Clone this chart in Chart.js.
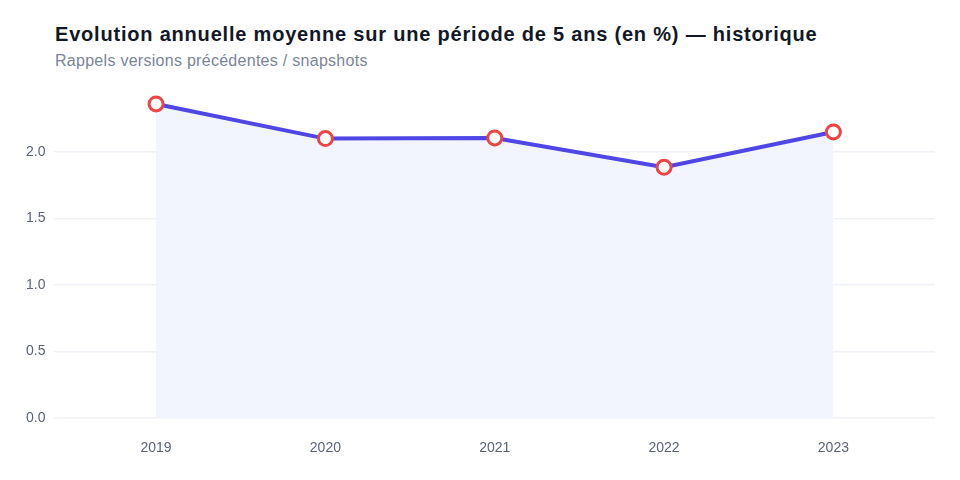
<!DOCTYPE html>
<html>
<head>
<meta charset="utf-8">
<script src="https://cdn.jsdelivr.net/npm/chart.js@4"></script>
<style>
  body { margin: 0; background: #fff; }
  .wrap { position: relative; width: 960px; height: 480px; font-family: "Liberation Sans", Arial, sans-serif; }
  .title { position: absolute; left: 55px; top: 23px; font-size: 20px; font-weight: bold; color: #111827; letter-spacing: 0.8px; }
  .subtitle { position: absolute; left: 55px; top: 52px; font-size: 16px; color: #7b8598; letter-spacing: 0.28px; }
  canvas { position: absolute; left: 0; top: 0; }
</style>
</head>
<body>
<div class="wrap">
  <div class="title">Evolution annuelle moyenne sur une période de 5 ans (en %) — historique</div>
  <div class="subtitle">Rappels versions précédentes / snapshots</div>
  <canvas id="chart" width="960" height="480"></canvas>
</div>
<script>
const years = [2019, 2020, 2021, 2022, 2023];
const values = [2.36, 2.10, 2.105, 1.885, 2.15];
const yTicks = [0, 0.5, 1, 1.5, 2];

const chart_1 = document.getElementById("chart");

const points = [];
for (let i = 0; i < years.length; i++) {
  points.push({ x: years[i], y: values[i] });
}

new Chart(chart_1, {
  type: 'line',
  data: {
    datasets: [{
      data: points,
      borderColor: '#4f46e5',
      borderWidth: 4,
      backgroundColor: '#f2f4fe',
      fill: 'origin',
      tension: 0,
      pointRadius: 7,
      pointBorderWidth: 3,
      pointBorderColor: '#ef4444',
      pointBackgroundColor: '#ffffff'
    }]
  },
  options: {
    responsive: false,
    animation: false,
    layout: { padding: { left: 17, right: 25, top: 88, bottom: 9 } },
    plugins: {
      legend: { display: false },
      tooltip: { enabled: false }
    },
    scales: {
      x: {
        type: 'linear',
        min: 2018.4,
        max: 2023.6,
        grid: { display: false },
        border: { display: false },
        afterBuildTicks: (axis) => { axis.ticks = years.map(v => ({ value: v })); },
        ticks: {
          padding: 14,
          color: '#5b6475',
          font: { family: '"Liberation Sans", Arial, sans-serif', size: 14 },
          callback: (v) => String(v)
        }
      },
      y: {
        min: 0,
        max: 2.48,
        grid: { color: '#eff1f7', lineWidth: 1.5, drawTicks: false },
        border: { display: false },
        afterBuildTicks: (axis) => { axis.ticks = yTicks.map(v => ({ value: v })); },
        ticks: {
          padding: 9,
          color: '#5b6475',
          font: { family: '"Liberation Sans", Arial, sans-serif', size: 14 },
          callback: (v) => v.toFixed(1)
        }
      }
    }
  }
});
</script>
</body>
</html>
